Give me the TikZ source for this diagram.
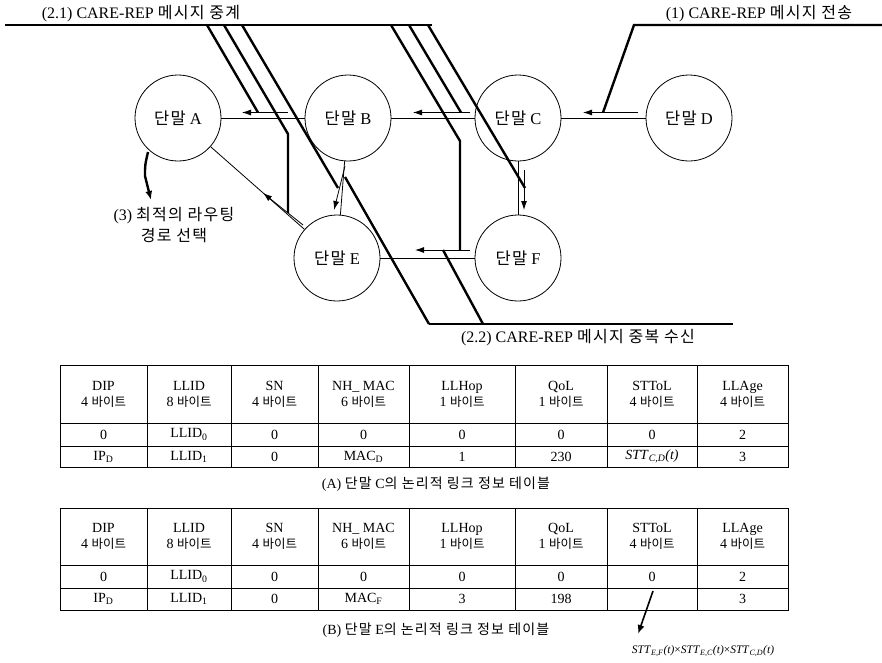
\documentclass[tikz,border=0pt]{standalone}
\usepackage{fontspec}
\setmainfont{Liberation Serif}
\newfontfamily\kr[LetterSpace=8]{Noto Sans CJK KR}
\newfontfamily\krt{Noto Sans CJK KR}
\usetikzlibrary{arrows.meta}
\begin{document}
\begin{tikzpicture}[x=1pt,y=-1pt,
  term/.style={circle,draw,line width=0.8pt,minimum size=86pt,inner sep=0pt,font=\fontsize{16.5}{19}\selectfont},
  link/.style={line width=0.8pt},
  msg/.style={line width=0.8pt,-{Latex[length=9pt,width=6pt]}},
  callout/.style={line width=2.4pt},
  lbl/.style={font=\fontsize{16}{19}\selectfont,inner sep=0pt},
  cell/.style={font=\fontsize{14}{16}\selectfont,inner sep=0pt,align=center},
  grid/.style={line width=0.8pt},
  captxt/.style={font=\fontsize{14}{16}\selectfont,inner sep=0pt},
  formtxt/.style={font=\fontsize{11.5}{14}\selectfont,inner sep=0pt},
]
\useasboundingbox (0,0) rectangle (882,662);

% terminals
\node[term] (A) at (178,118) {{\kr 단말} A};
\node[term] (B) at (348,118) {{\kr 단말} B};
\node[term] (C) at (518,118) {{\kr 단말} C};
\node[term] (D) at (689,118) {{\kr 단말} D};
\node[term] (E) at (337,258) {{\kr 단말} E};
\node[term] (F) at (518,258) {{\kr 단말} F};

% links
\draw[link] (A) -- (B);
\draw[link] (B) -- (C);
\draw[link] (C) -- (D);
\draw[link] (A) -- (E);
\draw[link] (B) -- (E);
\draw[link] (C) -- (F);
\draw[link] (E) -- (F);

% message arrows
\coordinate (ab1) at (288,112.5); \coordinate (ab2) at (242,112.5);
\coordinate (bc1) at (470,112.5); \coordinate (bc2) at (413,112.5);
\coordinate (cd1) at (638,112.5); \coordinate (cd2) at (583,112.5);
\coordinate (ae1) at (303,225);   \coordinate (ae2) at (263,193);
\coordinate (be1) at (345,166);   \coordinate (be2) at (334,210);
\coordinate (cf1) at (524,170);   \coordinate (cf2) at (524,210);
\coordinate (ef1) at (470,250);   \coordinate (ef2) at (415,250);
\draw[msg] (ab1) -- (ab2);
\draw[msg] (bc1) -- (bc2);
\draw[msg] (cd1) -- (cd2);
\draw[msg] (ae1) -- (ae2);
\draw[msg] (be1) -- (be2);
\draw[msg] (cf1) -- (cf2);
\draw[msg] (ef1) -- (ef2);

% callout lines
\draw[callout] (5,25) -- (432,25);
\draw[callout] (207,25) -- (258,112.5);
\draw[callout] (224,25) -- (288,134) -- (288,213);
\draw[callout] (242,25) -- (338,188);
\draw[callout] (391,25) -- (460,141) -- (460,250);
\draw[callout] (409,25) -- (461,112.5);
\draw[callout] (428,25) -- (525,188);
\draw[callout] (345,177) -- (429,324);
\draw[callout] (443,250) -- (483,324);
\draw[callout] (429,324) -- (733,324);
\draw[callout] (603,112.5) -- (634,25) -- (882,25);
\draw[callout,-{Latex[length=9pt,width=7pt]}] (148,152) .. controls (145,165) .. (145,176) -- (151,200);

% labels
\node[lbl] (t21) at (141,14) {(2.1) CARE-REP {\kr 메시지 중계}};
\node[lbl] (t1) at (759,14) {(1) CARE-REP {\kr 메시지 전송}};
\node[lbl] (t22) at (578,338) {(2.2) CARE-REP {\kr 메시지 중복 수신}};
\node[lbl,align=center] (t3) at (174,225) {(3) {\kr 최적의 라우팅}\\[2pt]{\kr 경로 선택}};

% tables
\foreach \top/\hb/\ra/\rb/\tag in {365/423/446/467/a, 508/565/588/610/b}{
  \draw[grid] (60,\top) rectangle (788,\rb);
  \draw[grid] (60,\hb) -- (788,\hb);
  \draw[grid] (60,\ra) -- (788,\ra);
  \foreach \x in {147,231,318,409,515,607,697}
    \draw[grid] (\x,\top) -- (\x,\rb);
  \foreach \cx/\h/\b [count=\i] in {103.5/DIP/4, 189/LLID/8, 274.5/SN/4, 363.5/NH\_ MAC/6, 462/LLHop/1, 561/QoL/1, 652/STToL/4, 742.5/LLAge/4}
    \node[cell] (h\tag\i) at (\cx,{(\top+\hb)/2}) {\h\\\b\ {\krt\fontsize{12.5}{16}\selectfont 바이트}};
  \foreach \cx/\v [count=\i] in {103.5/0, 189/LLID\textsubscript{0}, 274.5/0, 363.5/0, 462/0, 561/0, 652/0, 742.5/2}
    \node[cell] (r\tag\i) at (\cx,{(\hb+\ra)/2}) {\v};
}
\foreach \cx/\v [count=\i] in {103.5/IP\textsubscript{D}, 189/LLID\textsubscript{1}, 274.5/0, 363.5/MAC\textsubscript{D}, 462/1, 561/230, 652/\textit{STT}\textsubscript{\textit{C,D}}\textit{(t)}, 742.5/3}
  \node[cell] (sa\i) at (\cx,456.5) {\v};
\foreach \cx/\v [count=\i] in {103.5/IP\textsubscript{D}, 189/LLID\textsubscript{1}, 274.5/0, 363.5/MAC\textsubscript{F}, 462/3, 561/198, 742.5/3}
  \node[cell] (sb\i) at (\cx,599) {\v};

\node[captxt] (capA) at (436,484) {(A) {\kr 단말} C{\kr 의 논리적 링크 정보 테이블}};
\node[captxt] (capB) at (436,630) {(B) {\kr 단말} E{\kr 의 논리적 링크 정보 테이블}};

\coordinate (stt) at (653,591);
\node[formtxt] (form) at (703,651) {\textit{STT}\textsubscript{\textit{E,F}}\textit{(t)}×\textit{STT}\textsubscript{\textit{E,C}}\textit{(t)}×\textit{STT}\textsubscript{\textit{C,D}}\textit{(t)}};
\draw[line width=1.6pt,-{Latex[length=9pt,width=7pt]}] (stt) -- (638,634);
\end{tikzpicture}
\end{document}
